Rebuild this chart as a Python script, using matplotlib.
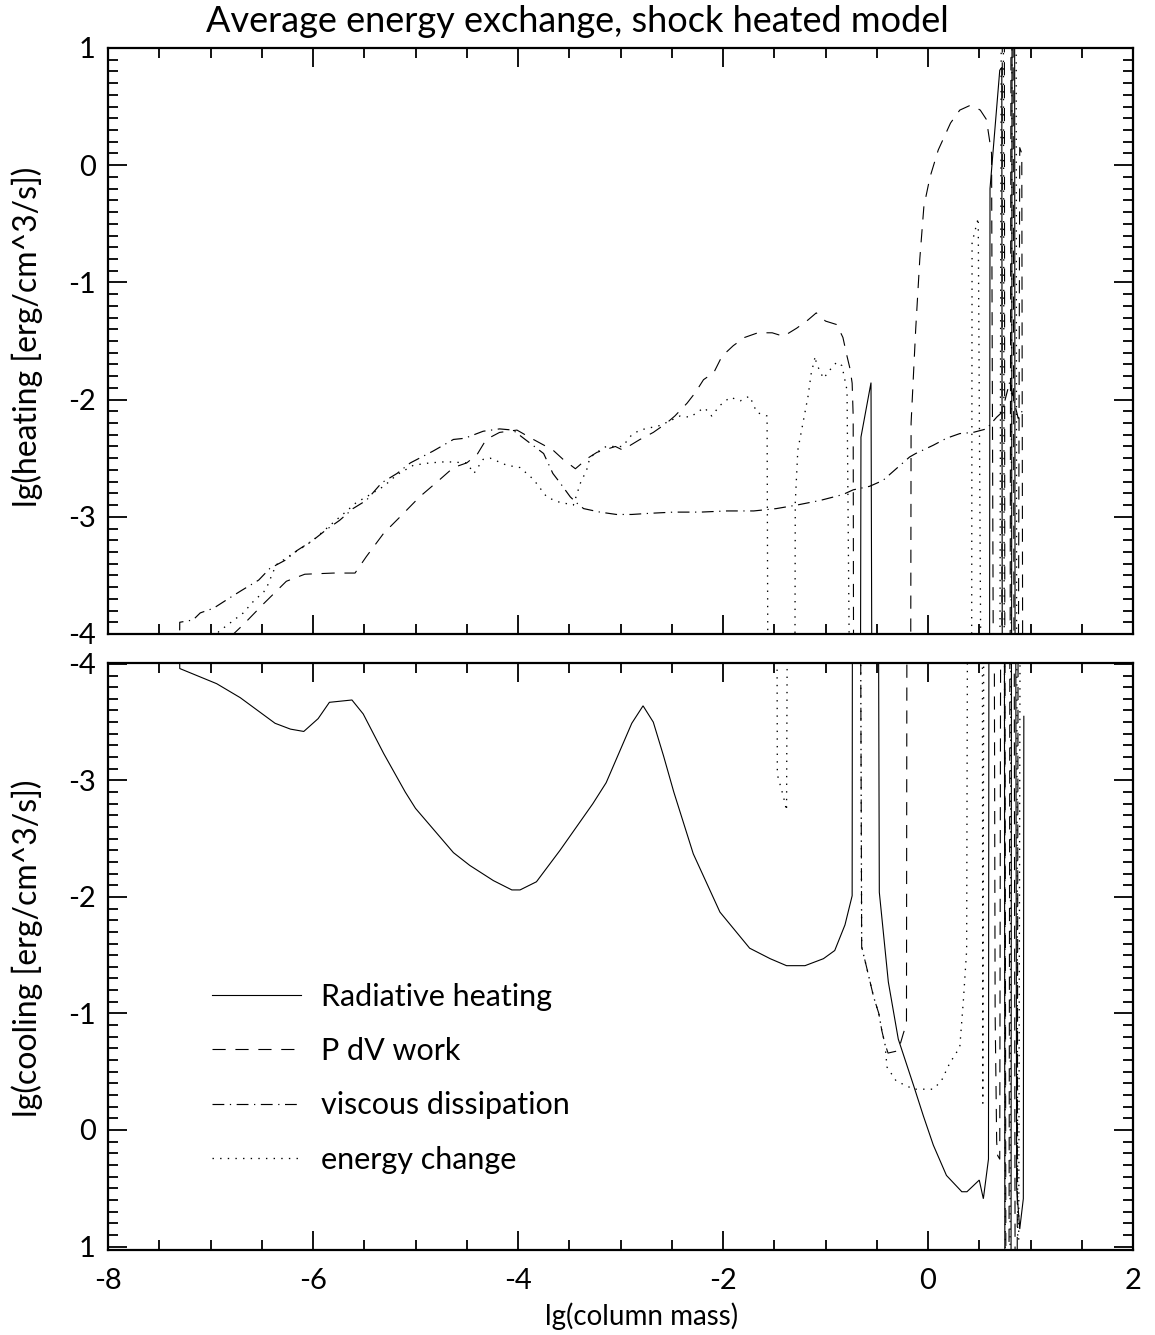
import matplotlib
matplotlib.use('Agg')
import matplotlib.pyplot as plt
from matplotlib.ticker import MultipleLocator

# lg|q| value used for "negligible": lies outside both panels, so the curve
# leaves the frame where the sign of the exchange term flips
OFF = -5.0
HIGH = 1.4

X_RANGE = (-8, 2)
HEAT_RANGE = (-4.0, 1.0)
COOL_RANGE = (1.03, -4.01)

TITLE = 'Average energy exchange, shock heated model'
X_LABEL = 'lg(column mass)'
HEAT_LABEL = 'lg(heating [erg/cm^3/s])'
COOL_LABEL = 'lg(cooling [erg/cm^3/s])'

LEGEND_NAMES = ['Radiative heating', 'P dV work', 'viscous dissipation', 'energy change']

# ---- radiative heating
rad_heat_x = [-0.66, -0.654, -0.556, -0.546,
              0.600, 0.605, 0.700, 0.720, 0.725,
              0.815, 0.820, 0.845, 0.850]
rad_heat_y = [OFF, -2.32, -1.855, OFF,
              OFF, -0.20, 0.81, 0.835, OFF,
              OFF, HIGH, HIGH, OFF]
rad_cool_x = [-7.31, -7.30, -6.94, -6.71, -6.37, -6.22, -6.09, -5.95, -5.84, -5.62,
              -5.51, -5.31, -5.10, -5.00, -4.63, -4.47, -4.24, -4.06, -3.98, -3.82,
              -3.59, -3.27, -3.14, -2.89, -2.78, -2.68, -2.58, -2.48, -2.29, -2.03,
              -1.74, -1.54, -1.38, -1.20, -1.02, -0.91, -0.81, -0.74, -0.737,
              -0.485, -0.475, -0.387, -0.29, -0.14, -0.045, 0.052, 0.18, 0.33, 0.38,
              0.50, 0.54, 0.59, 0.595,
              0.745, 0.75, 0.81, 0.815,
              0.855, 0.865, 0.895, 0.93, 0.935]
rad_cool_y = [OFF, -3.96, -3.83, -3.71, -3.49, -3.44, -3.42, -3.53, -3.67, -3.69,
              -3.57, -3.23, -2.90, -2.76, -2.38, -2.27, -2.14, -2.06, -2.06, -2.13,
              -2.40, -2.80, -2.98, -3.49, -3.64, -3.50, -3.21, -2.90, -2.37, -1.87,
              -1.56, -1.47, -1.41, -1.41, -1.47, -1.54, -1.76, -2.01, OFF,
              OFF, -2.04, -1.27, -0.78, -0.38, -0.12, 0.13, 0.39, 0.53, 0.53,
              0.43, 0.59, 0.25, OFF,
              OFF, HIGH, HIGH, OFF,
              OFF, 0.50, 0.85, 0.59, -3.55]

# ---- P dV work
pdv_heat_x = [-6.80, -6.68, -6.48, -6.26, -6.08, -5.80, -5.59, -5.48, -5.31, -5.15,
              -4.96, -4.76, -4.63, -4.50, -4.40, -4.31, -4.18, -4.01, -3.85, -3.66,
              -3.56, -3.44, -3.32, -3.23, -3.05, -2.98, -2.81, -2.68, -2.55, -2.47,
              -2.35, -2.27, -2.19, -2.09, -2.01, -1.90, -1.79, -1.66, -1.52, -1.41,
              -1.28, -1.17, -1.09, -1.00, -0.89, -0.83, -0.79, -0.76, -0.74, -0.73,
              -0.725,
              -0.17, -0.165, -0.12, -0.08, -0.04, 0.02, 0.10, 0.22, 0.31, 0.41,
              0.47, 0.51, 0.57, 0.62, 0.64,
              0.72, 0.725, 0.745, 0.75,
              0.80, 0.81, 0.83, 0.84,
              0.88, 0.895, 0.915, 0.925]
pdv_heat_y = [-4.02, -3.92, -3.74, -3.55, -3.49, -3.48, -3.48, -3.34, -3.14, -3.00,
              -2.83, -2.68, -2.58, -2.54, -2.47, -2.34, -2.28, -2.26, -2.34, -2.43,
              -2.51, -2.59, -2.50, -2.45, -2.40, -2.43, -2.34, -2.28, -2.20, -2.14,
              -2.03, -1.94, -1.83, -1.77, -1.63, -1.54, -1.47, -1.43, -1.43, -1.46,
              -1.39, -1.32, -1.26, -1.33, -1.36, -1.47, -1.63, -1.74, -1.86, -2.14,
              OFF,
              OFF, -2.20, -1.40, -0.80, -0.35, -0.10, 0.13, 0.36, 0.47, 0.51,
              0.49, 0.47, 0.39, 0.10, OFF,
              OFF, HIGH, HIGH, OFF,
              OFF, HIGH, HIGH, OFF,
              OFF, 0.15, 0.10, OFF]
pdv_cool_x = [-0.66, -0.647, -0.60, -0.53, -0.48, -0.45, -0.42, -0.39, -0.29, -0.24,
              -0.21, -0.205,
              0.645, 0.655, 0.67, 0.68, 0.70, 0.71,
              0.75, 0.76, 0.79, 0.80,
              0.84, 0.85, 0.87, 0.88]
pdv_cool_y = [OFF, -1.57, -1.40, -1.14, -1.00, -0.85, -0.74, -0.66, -0.68, -0.83,
              -0.91, OFF,
              OFF, -1.00, 0.10, 0.22, 0.25, OFF,
              OFF, HIGH, HIGH, OFF,
              OFF, HIGH, HIGH, OFF]

# ---- viscous dissipation (heating only)
visc_x = [-7.31, -7.30, -7.17, -7.10, -6.97, -6.81, -6.70, -6.53, -6.42, -6.27,
          -6.16, -6.00, -5.87, -5.74, -5.61, -5.48, -5.33, -5.18, -5.05, -4.83,
          -4.63, -4.52, -4.34, -4.18, -4.05, -3.75, -3.66, -3.59, -3.49, -3.43,
          -3.36, -3.20, -3.04, -2.89, -2.71, -2.48, -2.22, -1.96, -1.70, -1.48,
          -1.28, -1.05, -0.83, -0.73, -0.57, -0.44, -0.18, -0.12, 0.05, 0.18,
          0.31, 0.44, 0.57, 0.67, 0.72, 0.80, 0.83, 0.88, 0.93]
visc_y = [OFF, -3.90, -3.88, -3.82, -3.78, -3.69, -3.63, -3.54, -3.44, -3.37,
          -3.29, -3.20, -3.11, -3.03, -2.93, -2.86, -2.71, -2.63, -2.54, -2.44,
          -2.34, -2.33, -2.27, -2.25, -2.26, -2.46, -2.63, -2.71, -2.83, -2.88,
          -2.93, -2.96, -2.98, -2.98, -2.97, -2.96, -2.96, -2.95, -2.95, -2.93,
          -2.90, -2.86, -2.81, -2.77, -2.74, -2.69, -2.49, -2.46, -2.39, -2.33,
          -2.29, -2.28, -2.25, -2.15, -2.11, -1.84, -1.98, -2.16, -2.08]

# ---- energy change
en_heat_x = [-7.00, -6.92, -6.71, -6.68, -6.58, -6.48, -6.45, -6.36, -6.19, -6.08,
             -6.00, -5.83, -5.67, -5.58, -5.48, -5.31, -5.18, -5.02, -4.86, -4.70,
             -4.50, -4.43, -4.34, -4.27, -4.11, -3.98, -3.85, -3.72, -3.62, -3.46,
             -3.39, -3.33, -3.30, -3.25, -3.14, -2.98, -2.89, -2.81, -2.61, -2.42,
             -2.32, -2.22, -2.18, -2.11, -2.03, -1.93, -1.83, -1.74, -1.67, -1.57,
             -1.56,
             -1.30, -1.295, -1.27, -1.22, -1.17, -1.14, -1.10, -1.09, -1.02, -0.96,
             -0.89, -0.84, -0.79, -0.76,
             0.425, 0.43, 0.49, 0.52,
             0.70, 0.715, 0.735, 0.745,
             0.81, 0.82, 0.86, 0.865]
en_heat_y = [-4.10, -3.98, -3.84, -3.82, -3.72, -3.64, -3.60, -3.41, -3.31, -3.25,
             -3.20, -3.07, -2.95, -2.88, -2.83, -2.74, -2.64, -2.56, -2.54, -2.53,
             -2.54, -2.63, -2.51, -2.50, -2.56, -2.58, -2.68, -2.83, -2.87, -2.90,
             -2.71, -2.60, -2.50, -2.46, -2.40, -2.40, -2.30, -2.26, -2.22, -2.14,
             -2.15, -2.09, -2.07, -2.14, -2.05, -1.98, -2.01, -1.97, -2.11, -2.14,
             OFF,
             OFF, -2.88, -2.43, -2.20, -1.97, -1.78, -1.63, -1.69, -1.82, -1.75,
             -1.68, -1.71, -1.92, OFF,
             OFF, -0.66, -0.45, OFF,
             OFF, HIGH, HIGH, OFF,
             OFF, HIGH, HIGH, OFF]
en_cool_x = [-1.475, -1.47, -1.41, -1.38, -1.37,
             -0.66, -0.647, -0.60, -0.53, -0.48, -0.45, -0.42, -0.40, -0.31, -0.14,
             0.05, 0.13, 0.21, 0.31, 0.345, 0.377, 0.387,
             0.53, 0.535, 0.545,
             0.745, 0.755, 0.80, 0.81,
             0.865, 0.875, 0.885, 0.90]
en_cool_y = [OFF, -3.05, -2.86, -2.74, OFF,
             OFF, -1.57, -1.40, -1.14, -1.00, -0.85, -0.74, -0.54, -0.42, -0.35,
             -0.35, -0.42, -0.57, -0.71, -1.11, -1.54, OFF,
             OFF, -0.23, OFF,
             OFF, HIGH, HIGH, OFF,
             OFF, 0.90, 0.95, OFF]

LINE_STYLES = ['-', (0, (9.5, 7.0)), (0, (8.5, 4.0, 0.9, 4.0)), (0, (1.0, 4.5))]
LINE_WIDTHS = [0.8, 0.8, 0.85, 0.95]

FIG_W, FIG_H = 1155, 1335
LEFT, RIGHT = 108, 1133
TOP_PANEL = (48, 634)
BOTTOM_PANEL = (662.7, 1250)

plt.rcParams['lines.scale_dashes'] = False
plt.rcParams['font.family'] = ['Lato', 'DejaVu Sans']
plt.rcParams['axes.unicode_minus'] = False


def panel_rect(top, bottom):
    return [LEFT / FIG_W, 1 - bottom / FIG_H, (RIGHT - LEFT) / FIG_W, (bottom - top) / FIG_H]


def style_axes(ax, ylim):
    ax.set_xlim(*X_RANGE)
    ax.set_ylim(*ylim)
    ax.xaxis.set_major_locator(MultipleLocator(2))
    ax.xaxis.set_minor_locator(MultipleLocator(0.5))
    ax.yaxis.set_major_locator(MultipleLocator(1))
    ax.yaxis.set_minor_locator(MultipleLocator(0.1))
    ax.tick_params(which='both', direction='in', top=True, right=True, width=1.3,
                   labelsize=21, colors='black')
    ax.tick_params(which='major', length=14)
    ax.tick_params(which='minor', length=7)
    ax.tick_params(axis='y', pad=9)
    ax.tick_params(axis='x', pad=13)
    for spine in ax.spines.values():
        spine.set_linewidth(1.6)


def draw_curves(ax, curves):
    for (x, y), kind in curves:
        ax.plot(x, y, color='black', linewidth=LINE_WIDTHS[kind],
                linestyle=LINE_STYLES[kind],
                solid_joinstyle='miter', dash_capstyle='butt')


if __name__ == '__main__':
    fig = plt.figure(figsize=(FIG_W / 100, FIG_H / 100), dpi=100)
    ax_heat = fig.add_axes(panel_rect(*TOP_PANEL))
    ax_cool = fig.add_axes(panel_rect(*BOTTOM_PANEL))

    style_axes(ax_heat, HEAT_RANGE)
    style_axes(ax_cool, COOL_RANGE)
    ax_heat.tick_params(axis='x', labelbottom=False)

    draw_curves(ax_heat, [
        ((rad_heat_x, rad_heat_y), 0),
        ((pdv_heat_x, pdv_heat_y), 1),
        ((visc_x, visc_y), 2),
        ((en_heat_x, en_heat_y), 3),
    ])
    draw_curves(ax_cool, [
        ((rad_cool_x, rad_cool_y), 0),
        ((pdv_cool_x, pdv_cool_y), 1),
        ((en_cool_x, en_cool_y), 3),
    ])

    # legend sits inside the cooling panel
    handles = [plt.Line2D([], [], color='black', linewidth=lw, linestyle=ls)
               for ls, lw in zip(LINE_STYLES, LINE_WIDTHS)]
    ax_cool.legend(handles, LEGEND_NAMES, loc='upper left',
                   bbox_to_anchor=((197 - LEFT) / (RIGHT - LEFT), 0.481),
                   frameon=False, fontsize=22, handlelength=2.9,
                   handletextpad=0.65, labelspacing=0.86, borderpad=0.0)

    fig.text(0.5, 1 - 22 / FIG_H, TITLE, ha='center', va='center', fontsize=26)
    fig.text(642 / FIG_W, 1 - 1316 / FIG_H, X_LABEL, ha='center', va='center', fontsize=20)
    fig.text(27 / FIG_W, 1 - 337 / FIG_H, HEAT_LABEL, ha='center', va='center',
             rotation=90, fontsize=23)
    fig.text(27 / FIG_W, 1 - 948 / FIG_H, COOL_LABEL, ha='center', va='center',
             rotation=90, fontsize=23)

    fig.savefig('out.png', dpi=100, facecolor='white')
